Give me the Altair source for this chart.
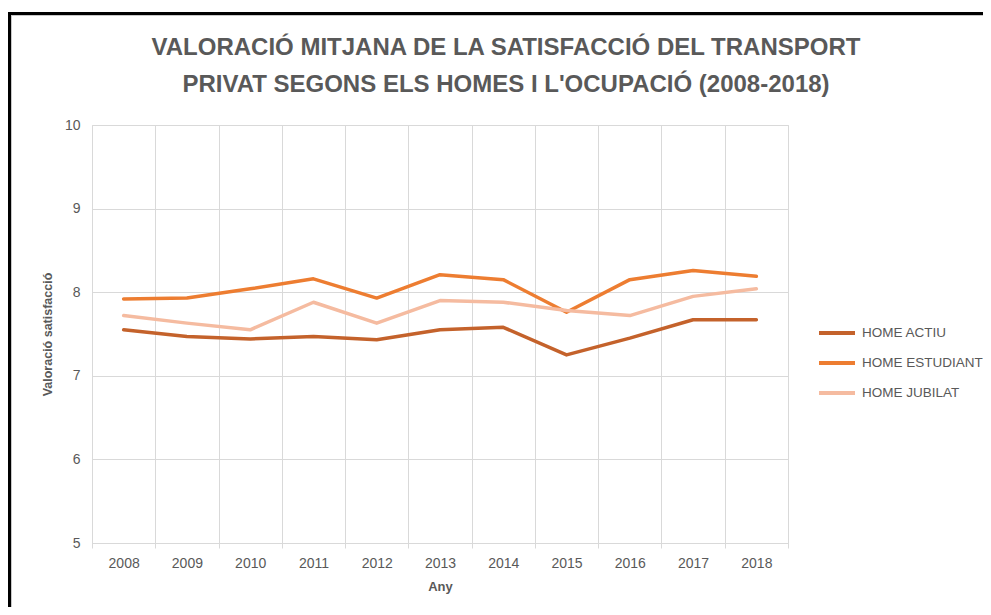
import altair as alt
import pandas as pd

years = [str(y) for y in range(2008, 2019)]
actiu = [7.55, 7.47, 7.44, 7.47, 7.43, 7.55, 7.58, 7.25, 7.45, 7.67, 7.67]
estudiant = [7.92, 7.93, 8.04, 8.16, 7.93, 8.21, 8.15, 7.76, 8.15, 8.26, 8.19]
jubilat = [7.72, 7.63, 7.55, 7.88, 7.63, 7.90, 7.88, 7.78, 7.72, 7.95, 8.04]
series_names = ["HOME ACTIU", "HOME ESTUDIANT", "HOME JUBILAT"]
colors = ["#C4622B", "#ED7D31", "#F5BBA0"]
title_lines = ["VALORACIÓ MITJANA DE LA SATISFACCIÓ DEL TRANSPORT",
               "PRIVAT SEGONS ELS HOMES I L'OCUPACIÓ (2008-2018)"]

rows = []
for name, vals in zip(series_names, [actiu, estudiant, jubilat]):
    for y, v in zip(years, vals):
        rows.append({"Any": y, "Valor": v, "Serie": name})
df = pd.DataFrame(rows)

FONT = "Liberation Sans"
GRAY = "#595959"
GRID = "#D9D9D9"

lines = alt.Chart(df).mark_line(strokeWidth=3.5, strokeCap="round", strokeJoin="round").encode(
    x=alt.X("Any:O", sort=years,
            scale=alt.Scale(type="band", paddingInner=0, paddingOuter=0),
            axis=alt.Axis(title="Any", labelAngle=0, tickBand="extent", grid=True,
                          gridColor=GRID, domainColor=GRID, tickColor=GRID, tickSize=5,
                          labelColor=GRAY, labelFontSize=14, labelFont=FONT, labelPadding=8,
                          titleColor=GRAY, titleFontSize=13, titleFont=FONT, titleFontWeight="bold",
                          titlePadding=10)),
    y=alt.Y("Valor:Q", scale=alt.Scale(domain=[5, 10], nice=False, zero=False),
            axis=alt.Axis(title="Valoració satisfacció", values=[5, 6, 7, 8, 9, 10], grid=True,
                          gridColor=GRID, domain=False, ticks=False,
                          labelColor=GRAY, labelFontSize=14, labelFont=FONT, labelPadding=12,
                          titleColor=GRAY, titleFontSize=12.5, titleFont=FONT, titleFontWeight="bold",
                          titlePadding=10)),
    color=alt.Color("Serie:N", scale=alt.Scale(domain=series_names, range=colors),
                    legend=alt.Legend(title=None, orient="none", legendX=725, legendY=188,
                                      symbolType="stroke", symbolSize=1296, symbolStrokeWidth=4,
                                      labelColor=GRAY, labelFontSize=13.5, labelFont=FONT,
                                      labelOffset=5, rowPadding=2)),
)

title_df = pd.DataFrame({"line": title_lines, "row": [0, 1]})
title1 = alt.Chart(title_df).transform_filter("datum.row == 0").mark_text(
    font=FONT, fontSize=24, fontWeight="bold", color=GRAY,
    align="center", baseline="alphabetic").encode(
    text="line:N", x=alt.value(414), y=alt.value(-70))
title2 = alt.Chart(title_df).transform_filter("datum.row == 1").mark_text(
    font=FONT, fontSize=24, fontWeight="bold", color=GRAY,
    align="center", baseline="alphabetic").encode(
    text="line:N", x=alt.value(414), y=alt.value(-33))

frame_df = pd.DataFrame({"k": [0]})
frame_left = alt.Chart(frame_df).mark_rule(color="black", strokeWidth=3).encode(
    x=alt.value(-82.5), y=alt.value(-112), y2=alt.value(700))
frame_top = alt.Chart(frame_df).mark_rule(color="black", strokeWidth=3).encode(
    x=alt.value(-84), x2=alt.value(1000), y=alt.value(-111.5))
frame_left_in = alt.Chart(frame_df).mark_rule(color="#C8C8C8", strokeWidth=1).encode(
    x=alt.value(-80.5), y=alt.value(-110), y2=alt.value(700))
frame_top_in = alt.Chart(frame_df).mark_rule(color="#C8C8C8", strokeWidth=1).encode(
    x=alt.value(-81), x2=alt.value(1000), y=alt.value(-109.5))

chart = alt.layer(frame_left, frame_top, frame_left_in, frame_top_in, title1, title2, lines).properties(
    width=696, height=418,
    autosize="none",
    padding={"left": 84, "top": 117, "right": 195, "bottom": 64},
).configure_view(stroke=GRID).configure(background="white")

chart.save("out.html", embed_options={"renderer": "svg", "actions": False})
